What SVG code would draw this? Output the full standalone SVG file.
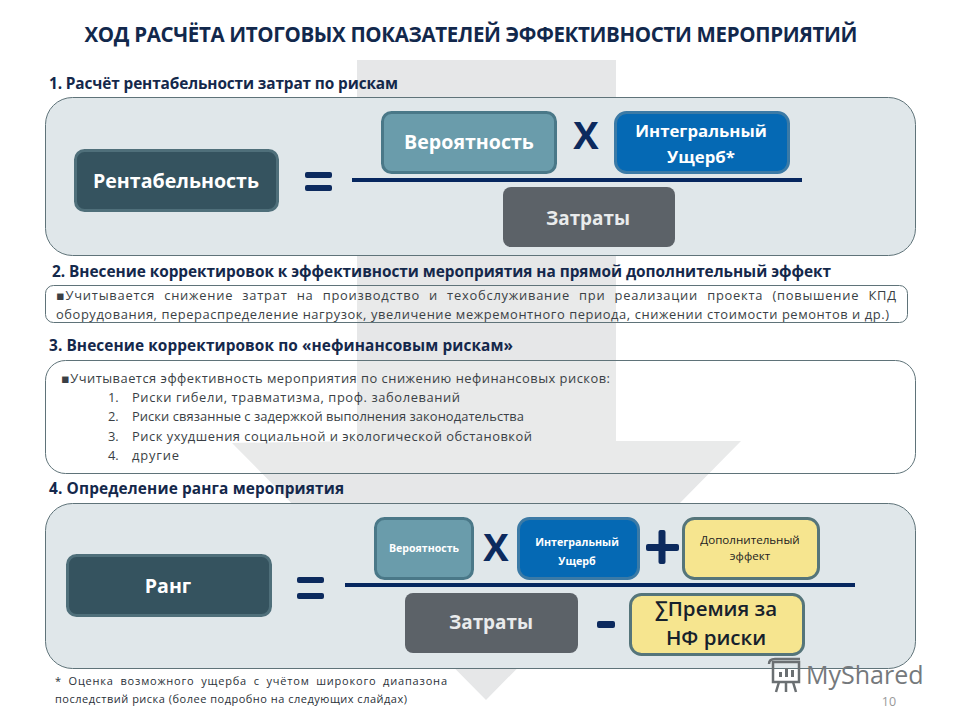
<svg xmlns="http://www.w3.org/2000/svg" width="960" height="720" viewBox="0 0 960 720">
<style>
text{font-family:"Open Sans","Noto Sans","DejaVu Sans",sans-serif}
.h{font-size:15.400px;font-weight:700;fill:#14284b}
.b{font-size:12.900px;fill:#3a3f45}
.w{font-weight:700;fill:#fff;text-anchor:middle}
.d{font-weight:700;fill:#0c2a5e;text-anchor:middle}
.panel{stroke:#5f7379;stroke-width:1}
.fill{fill:#e0e7ea}
.blank{fill:#fff;fill-opacity:.12}
.teal{fill:#6a9cab;stroke:#4a7888;stroke-width:3}
.dark{fill:#35535f;stroke:#4f6f7a;stroke-width:3}
.blue{fill:#0569b4;stroke:#3b7aa6;stroke-width:3}
.grey{fill:#5c6268}
.yel{fill:#f6e58f;stroke:#55757a;stroke-width:3}
.rule{stroke:#06275f;stroke-width:4}
</style>
<rect width="960" height="720" fill="#fff"/>
<path id="bg-arrow" d="M357 60H616V441H741L486 700L232 443L357 441Z" fill="#e6e7e8"/>
<text id="title" x="471" y="42" text-anchor="middle" style="font-size:20.500px;font-weight:700" fill="#12284c" textLength="773">ХОД РАСЧЁТА ИТОГОВЫХ ПОКАЗАТЕЛЕЙ ЭФФЕКТИВНОСТИ МЕРОПРИЯТИЙ</text>
<text class="h" x="49" y="89" textLength="349">1. Расчёт рентабельности затрат по рискам</text>
<g id="panel1"><rect class="panel fill" x="45.500" y="97.500" width="870" height="158" rx="27"/></g>
<text class="h" x="52" y="277" textLength="779">2. Внесение корректировок к эффективности мероприятия на прямой дополнительный эффект</text>
<g id="panel2"><rect class="panel blank" x="45.500" y="285.500" width="862" height="37" rx="8"/>
<text class="b" x="56" y="300" word-spacing="5" textLength="840">▪Учитывается снижение затрат на производство и техобслуживание при реализации проекта (повышение КПД</text>
<text class="b" x="56" y="319" textLength="833">оборудования, перераспределение нагрузок, увеличение межремонтного периода, снижении стоимости ремонтов и др.)</text></g>
<text class="h" x="49" y="351" textLength="464">3. Внесение корректировок по «нефинансовым рискам»</text>
<g id="panel3"><rect class="panel blank" x="45.500" y="360.500" width="870" height="113" rx="20"/>
<text class="b" x="61" y="383" textLength="549">▪Учитывается эффективность мероприятия по снижению нефинансовых рисков:</text>
<text class="b" x="108" y="402">1.</text><text class="b" x="132" y="402" textLength="328">Риски гибели, травматизма, проф. заболеваний</text>
<text class="b" x="108" y="421">2.</text><text class="b" x="132" y="421" textLength="392">Риски связанные с задержкой выполнения законодательства</text>
<text class="b" x="108" y="441">3.</text><text class="b" x="132" y="441" textLength="400">Риск ухудшения социальной и экологической обстановкой</text>
<text class="b" x="108" y="460">4.</text><text class="b" x="132" y="460" textLength="47">другие</text></g>
<text class="h" x="49" y="494" textLength="295">4. Определение ранга мероприятия</text>
<g id="panel4"><rect class="panel fill" x="45.500" y="503.500" width="870" height="165" rx="27"/></g>
<g id="connectors">
<line class="rule" x1="352" y1="180" x2="802" y2="180"/>
<line class="rule" x1="345" y1="585" x2="855" y2="585"/>
</g>
<g id="n-rent"><rect class="dark" x="75.500" y="150.500" width="202" height="60" rx="9"/><text class="w" x="176" y="188" style="font-size:19.600px">Рентабельность</text></g>
<g id="op-eq1"><rect x="305" y="172" width="27" height="6" rx="2" fill="#0c2a5e"/><rect x="305" y="185" width="27" height="6" rx="2" fill="#0c2a5e"/></g>
<g id="n-ver1"><rect class="teal" x="382.500" y="112.500" width="173" height="60" rx="9"/><text class="w" x="469" y="149" style="font-size:19.600px">Вероятность</text></g>
<text id="op-x1" class="d" x="586" y="149" style="font-size:38px">X</text>
<g id="n-ush1"><rect class="blue" x="615.500" y="112.500" width="173" height="60" rx="11"/><text class="w" x="701" y="137" style="font-size:16.800px">Интегральный</text><text class="w" x="701" y="163" style="font-size:16.800px">Ущерб*</text></g>
<g id="n-zat1"><rect class="grey" x="503" y="187" width="172" height="60" rx="8"/><text class="w" x="588" y="225" style="font-size:18.900px;fill:#e9ebec">Затраты</text></g>
<g id="n-rang"><rect class="dark" x="67.500" y="555.500" width="203" height="60" rx="9"/><text class="w" x="168" y="593" style="font-size:19.600px">Ранг</text></g>
<g id="op-eq2"><rect x="297" y="577" width="27" height="6" rx="2" fill="#0c2a5e"/><rect x="297" y="593" width="27" height="6" rx="2" fill="#0c2a5e"/></g>
<g id="n-ver2"><rect class="teal" x="375.500" y="518.500" width="97" height="60" rx="9"/><text class="w" x="424" y="552" style="font-size:10.600px">Вероятность</text></g>
<text id="op-x2" class="d" x="496" y="561" style="font-size:38px">X</text>
<g id="n-ush2"><rect class="blue" x="518.500" y="518.500" width="120" height="60" rx="11"/><text class="w" x="577" y="546" style="font-size:10.700px">Интегральный</text><text class="w" x="577" y="565" style="font-size:10.700px">Ущерб</text></g>
<g id="op-plus"><rect x="646" y="544" width="33" height="7" rx="2" fill="#0c2a5e"/><rect x="658.500" y="530" width="7" height="34" rx="2" fill="#0c2a5e"/></g>
<g id="n-dop"><rect class="yel" x="683.500" y="518.500" width="135" height="60" rx="11"/><text x="750" y="544" text-anchor="middle" style="font-size:11.600px" fill="#222">Дополнительный</text><text x="750" y="560" text-anchor="middle" style="font-size:11.600px" fill="#222">эффект</text></g>
<g id="n-zat2"><rect class="grey" x="405" y="593" width="173" height="60" rx="8"/><text class="w" x="491" y="629" style="font-size:18.900px;fill:#e9ebec">Затраты</text></g>
<rect id="op-minus" x="597" y="621" width="18" height="7" rx="2" fill="#0c2a5e"/>
<g id="n-prem"><rect class="yel" x="630.500" y="594.500" width="173" height="60" rx="11"/><text x="716" y="616" text-anchor="middle" style="font-size:20.500px;font-weight:600" fill="#16212c">∑Премия за</text><text x="716" y="645" text-anchor="middle" style="font-size:20.500px;font-weight:600" fill="#16212c">НФ риски</text></g>
<g id="note" fill="#2a3138"><text x="55" y="685" word-spacing="3" style="font-size:11px;font-weight:500" textLength="392">*  Оценка возможного ущерба с учётом широкого диапазона</text><text x="55" y="703" style="font-size:11px;font-weight:500" textLength="352">последствий риска (более подробно на следующих слайдах)</text></g>
<g id="watermark"><g fill="none" stroke="#6a6f72" stroke-width="2.500"><rect x="773" y="662" width="26" height="20"/><path d="M769 664q0-5 6-5h25M779 682l-3 10M793 682l3 10M786 682v10"/></g><path d="M779 677h3v-5h-3zM785 677h3v-9h-3zM791 677h3v-7h-3z" fill="#6a6f72"/>
<text x="806" y="684" style="font-size:25px" fill="#75797c">MyShared</text></g>
<text id="page" x="889" y="706" text-anchor="middle" style="font-size:12.500px" fill="#999">10</text>
</svg>
